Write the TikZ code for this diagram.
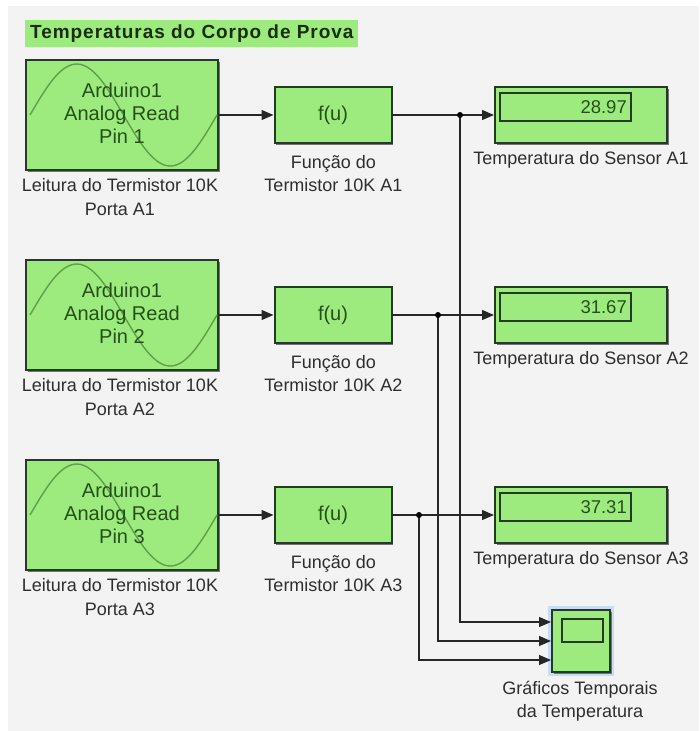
\documentclass[tikz,border=0pt]{standalone}
\usepackage{fontspec}
\setmainfont{Liberation Sans}
\newfontfamily\titlefont[LetterSpace=5]{Liberation Sans}
\usetikzlibrary{arrows.meta,shadows}
\definecolor{bg}{HTML}{F3F3F3}
\definecolor{blk}{HTML}{9DEB7E}
\definecolor{edge}{HTML}{243A24}
\definecolor{wave}{HTML}{5F9F47}
\definecolor{intext}{HTML}{25501A}
\definecolor{lbl}{HTML}{2E2E2E}
\definecolor{halo}{HTML}{C6DDF4}
\definecolor{ttl}{HTML}{1A2E10}
\begin{document}
\begin{tikzpicture}[x=1pt,y=-1pt,
  font=\fontsize{18}{23}\selectfont,
  blockbox/.style={draw=edge, fill=blk, line width=2pt, inner sep=0pt,
    general shadow={shadow xshift=1.5pt, shadow yshift=-1.5pt, fill=black!55}},
  innerbox/.style={draw=edge, line width=1.5pt, inner sep=0pt},
  lbltext/.style={text=lbl, align=center, inner sep=0pt},
  blktext/.style={text=intext, align=center, inner sep=0pt},
  wire/.style={draw=black!85, line width=1.2pt, -{Triangle[length=12pt,width=10pt]}},
  dotnode/.style={circle, fill=black, inner sep=0pt, minimum size=6pt},
]
\useasboundingbox (0,0) rectangle (699,731);
\fill[white] (0,0) rectangle (699,731);
\fill[bg] (8,6) rectangle (699,731);

% title
\node[fill=blk, anchor=west, minimum height=27pt, inner xsep=5pt, inner ysep=0pt,
  text=ttl, font=\fontsize{19}{22}\titlefont\bfseries] (title) at (25,33.5)
  {Temperaturas do Corpo de Prova};

% scope halo and scope
\fill[halo] (548,606) rectangle (614,676);
\node[blockbox, minimum width=58pt, minimum height=62pt] (scope) at (581,641) {};
\node[innerbox, minimum width=41pt, minimum height=23pt] (scopescr) at (582.5,630.5) {};
\node[lbltext] (scopelbl) at (580,701) {Gráficos Temporais\\da Temperatura};

\foreach \r/\yc/\val/\xj/\sy in {1/115/28.97/460/19, 2/315/31.67/438/0, 3/515/37.31/419/-19}{
  % Arduino block
  \node[blockbox, minimum width=192pt, minimum height=110pt] (ard\r) at (122,\yc) {};
  \draw[wave, line width=1.4pt] (30,\yc) sin (76.75,\yc-51) cos (123.5,\yc)
    sin (170.25,\yc+51) cos (217,\yc);
  \node[blktext, font=\fontsize{20}{23}\selectfont] (ardtxt\r) at (122,\yc-2) {Arduino1\\Analog Read\\Pin \r};
  \node[lbltext, font=\fontsize{18}{24}\selectfont] (ardlbl\r) at (120,\yc+82)
    {Leitura do Termistor 10K\\Porta A\r};
  % function block
  \node[blockbox, minimum width=117pt, minimum height=56pt, text=intext,
    font=\fontsize{20}{23}\selectfont] (fu\r) at (333,\yc) {f(u)};
  \node[lbltext] (fulbl\r) at (333.5,\yc+58.5) {Função do\\Termistor 10K A\r};
  % display block
  \node[blockbox, minimum width=172pt, minimum height=56pt] (disp\r) at (581,\yc) {};
  \node[innerbox, minimum width=131pt, minimum height=28pt] (dispscr\r) at (565.5,\yc-8) {};
  \node[blktext, anchor=east, font=\fontsize{18.5}{22}\selectfont] (dispval\r) at (627,\yc-8) {\val};
  \node[lbltext] (displbl\r) at (581,\yc+45) {Temperatura do Sensor A\r};
  % wires
  \coordinate (j\r) at (\xj,\yc);
  \draw[wire] (ard\r.east) -- (fu\r.west);
  \draw[wire] (fu\r.east) -- (disp\r.west);
  \draw[wire] (j\r) |- ([yshift=\sy pt]scope.west);
  \node[dotnode] (dot\r) at (j\r) {};
}
\end{tikzpicture}
\end{document}
